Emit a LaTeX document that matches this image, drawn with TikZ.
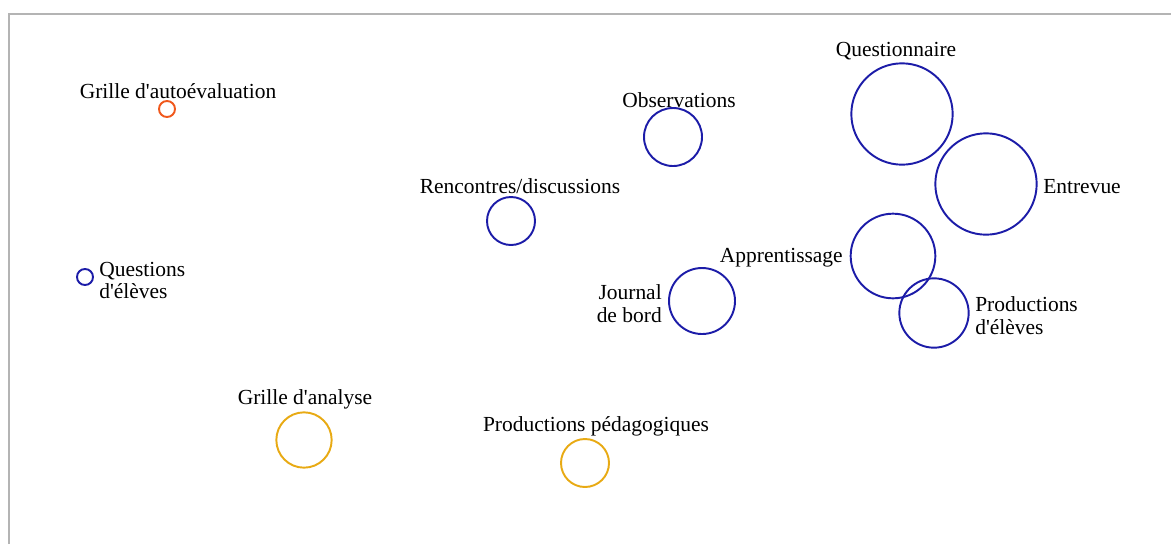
\documentclass[tikz,border=0pt]{standalone}
\usepackage{fontspec}
\setmainfont{Liberation Serif}[Ligatures=TeXOff]
\definecolor{cblue}{HTML}{1C1CA8}
\definecolor{corange}{HTML}{F0581C}
\definecolor{cgold}{HTML}{E8AA14}
\definecolor{cframe}{HTML}{B4B4B4}
\tikzset{
  bub/.style={circle, draw, line width=1.45pt, inner sep=0pt, minimum size=#1},
  lab/.style={inner sep=0pt, font=\fontsize{16.1}{16.6}\selectfont, text=black, yshift=-1.2pt},
}
\begin{document}
\begin{tikzpicture}[x=0.75pt,y=-0.75pt]
\useasboundingbox (0,0) rectangle (1171,544);
\draw[cframe, line width=1.5pt] (9,544) -- (9,13.5) -- (1171,13.5);
% circles (diameter in pt = 1.5 * radius px)
\node[bub=12pt, draw=corange] (ga) at (167,109) {};
\node[bub=12pt, draw=cblue] (qe) at (85,277) {};
\node[bub=43.5pt, draw=cblue] (ob) at (673,137) {};
\node[bub=36pt, draw=cblue] (rd) at (511,221) {};
\node[bub=76pt, draw=cblue] (qu) at (902,114) {};
\node[bub=76pt, draw=cblue] (en) at (986,184) {};
\node[bub=63.5pt, draw=cblue] (ap) at (893,256) {};
\node[bub=52pt, draw=cblue] (pe) at (934,313) {};
\node[bub=49.5pt, draw=cblue] (jb) at (702,301) {};
\node[bub=41.5pt, draw=cgold] (gan) at (304,440) {};
\node[bub=36pt, draw=cgold] (pp) at (585,463) {};
% labels
\node[lab] (lga) at (178,90) {Grille d'autoévaluation};
\node[lab, anchor=west, align=left] (lqe) at (99,279) {Questions\\d'élèves};
\node[lab] (lob) at (679,99) {Observations};
\node[lab] (lrd) at (520,185) {Rencontres/discussions};
\node[lab] (lqu) at (896,50) {Questionnaire};
\node[lab, anchor=west] (len) at (1043,185) {Entrevue};
\node[lab, anchor=east] (lap) at (843,256) {Apprentissage};
\node[lab, anchor=east, align=right] (ljb) at (662,302) {Journal\\de bord};
\node[lab, anchor=west, align=left] (lpe) at (975,314) {Productions\\d'élèves};
\node[lab] (lgan) at (305,398) {Grille d'analyse};
\node[lab] (lpp) at (596,425) {Productions pédagogiques};
\end{tikzpicture}
\end{document}
